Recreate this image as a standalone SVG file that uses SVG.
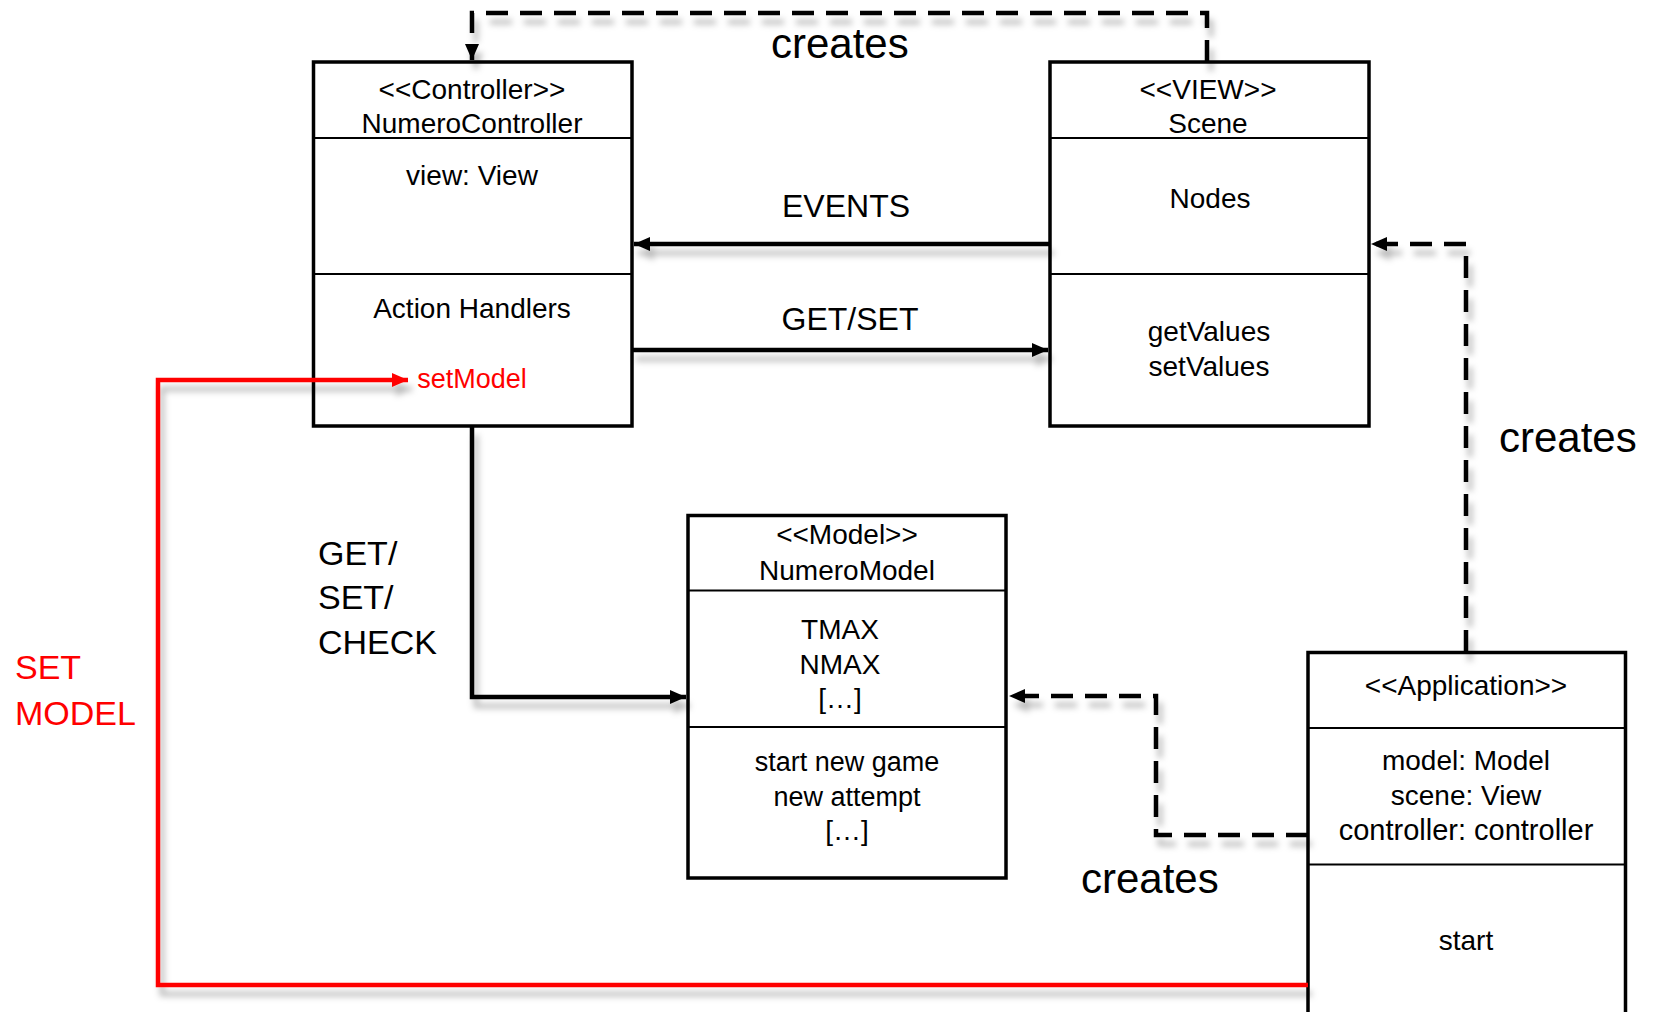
<svg xmlns="http://www.w3.org/2000/svg" width="1655" height="1012" viewBox="0 0 1655 1012">
<style>
  .box{fill:#fff;stroke:#000;stroke-width:3.5}
  .div{stroke:#000;stroke-width:2}
  text{font-family:"Liberation Sans",Arial,sans-serif;fill:#000}
  .t{font-size:28px;text-anchor:middle}
  .lbl{font-size:32px;text-anchor:middle}
  .cr{font-size:42px}
  .big{font-size:34px}
  .red{fill:#f00}
  .solid{fill:none;stroke:#000;stroke-width:4.5}
  .dash{fill:none;stroke:#000;stroke-width:4.5;stroke-dasharray:22 12}
  .rline{fill:none;stroke:#f00;stroke-width:4.5}
</style>
<defs>
  <marker id="ah" markerUnits="userSpaceOnUse" markerWidth="18" markerHeight="16" refX="16" refY="8" orient="auto">
    <path d="M0,1 L16,8 L0,15 Z" fill="#000"/>
  </marker>
  <marker id="ahr" markerUnits="userSpaceOnUse" markerWidth="18" markerHeight="16" refX="16" refY="8" orient="auto">
    <path d="M0,1 L16,8 L0,15 Z" fill="#f00"/>
  </marker>
  <filter id="sh" x="-5%" y="-5%" width="110%" height="120%">
    <feDropShadow dx="4" dy="9" stdDeviation="3" flood-color="#000" flood-opacity="0.28"/>
  </filter>
</defs>

<g id="controller">
  <rect class="box" x="313.5" y="62" width="318.5" height="364"/>
  <line class="div" x1="313.5" y1="138" x2="632" y2="138"/>
  <line class="div" x1="313.5" y1="274" x2="632" y2="274"/>
  <text class="t" x="472" y="99">&lt;&lt;Controller&gt;&gt;</text>
  <text class="t" x="472" y="133">NumeroController</text>
  <text class="t" x="472" y="185">view: View</text>
  <text class="t" x="472" y="318">Action Handlers</text>
  <text class="t red" x="472" y="388" style="font-size:27px">setModel</text>
</g>

<g id="view">
  <rect class="box" x="1050" y="62" width="319" height="364"/>
  <line class="div" x1="1050" y1="138" x2="1369" y2="138"/>
  <line class="div" x1="1050" y1="274" x2="1369" y2="274"/>
  <text class="t" x="1208" y="99">&lt;&lt;VIEW&gt;&gt;</text>
  <text class="t" x="1208" y="133">Scene</text>
  <text class="t" x="1210" y="208">Nodes</text>
  <text class="t" x="1209" y="341">getValues</text>
  <text class="t" x="1209" y="376">setValues</text>
</g>

<g id="model">
  <rect class="box" x="688" y="515.5" width="318" height="362.5"/>
  <line class="div" x1="688" y1="590.5" x2="1006" y2="590.5"/>
  <line class="div" x1="688" y1="727" x2="1006" y2="727"/>
  <text class="t" x="847" y="544">&lt;&lt;Model&gt;&gt;</text>
  <text class="t" x="847" y="580">NumeroModel</text>
  <text class="t" x="840" y="639">TMAX</text>
  <text class="t" x="840" y="674">NMAX</text>
  <text class="t" x="840" y="708">[…]</text>
  <text class="t" x="847" y="771" style="font-size:27px">start new game</text>
  <text class="t" x="847" y="806" style="font-size:27px">new attempt</text>
  <text class="t" x="847" y="840">[…]</text>
</g>

<g id="application">
  <path class="box" d="M1308,1014 V652.5 H1625.5 V1014"/>
  <line class="div" x1="1308" y1="728" x2="1625.5" y2="728"/>
  <line class="div" x1="1308" y1="864.5" x2="1625.5" y2="864.5"/>
  <text class="t" x="1466" y="695">&lt;&lt;Application&gt;&gt;</text>
  <text class="t" x="1466" y="770">model: Model</text>
  <text class="t" x="1466" y="805">scene: View</text>
  <text class="t" x="1466" y="840" style="font-size:29px">controller: controller</text>
  <text class="t" x="1466" y="950">start</text>
</g>

<g id="connectors" filter="url(#sh)">
  <path class="dash" d="M1207,62 V13 H472 V60" marker-end="url(#ah)"/>
  <path class="solid" d="M1050,244 H634" marker-end="url(#ah)"/>
  <path class="solid" d="M632,350 H1048" marker-end="url(#ah)"/>
  <path class="solid" d="M472,426 V697 H686" marker-end="url(#ah)"/>
  <path class="dash" d="M1466,652 V244 H1371" marker-end="url(#ah)"/>
  <path class="dash" d="M1308,835 H1156 V696 H1009" marker-end="url(#ah)"/>
  <path class="rline" d="M1308,985 H158 V380 H408" marker-end="url(#ahr)"/>
</g>

<g id="labels">
  <text class="cr" x="771" y="58">creates</text>
  <text class="lbl" x="846" y="217">EVENTS</text>
  <text class="lbl" x="850" y="330">GET/SET</text>
  <text class="big" x="318" y="565">GET/</text>
  <text class="big" x="318" y="609">SET/</text>
  <text class="big" x="318" y="654">CHECK</text>
  <text class="big red" x="15" y="679">SET</text>
  <text class="big red" x="15" y="725">MODEL</text>
  <text class="cr" x="1499" y="452">creates</text>
  <text class="cr" x="1081" y="893">creates</text>
</g>
</svg>
